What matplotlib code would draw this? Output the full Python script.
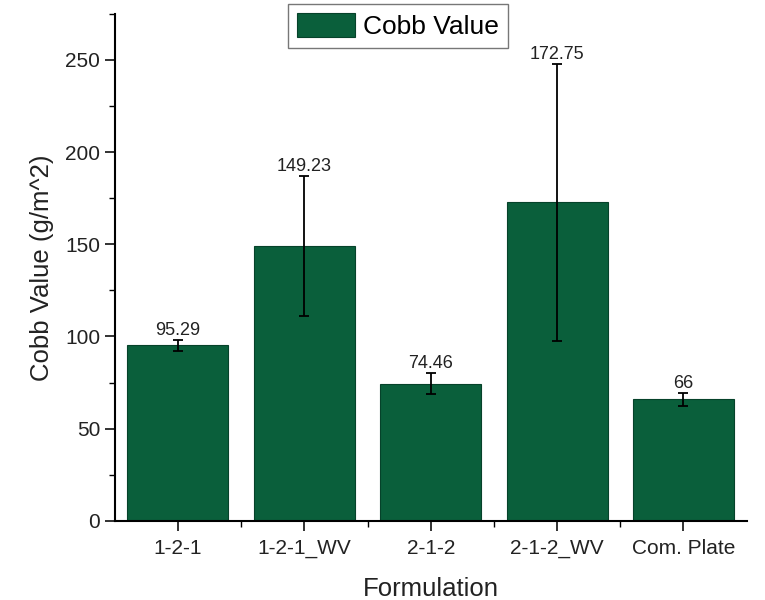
import matplotlib.pyplot as plt
from matplotlib.ticker import MultipleLocator, FixedLocator
import numpy as np

plt.rcParams.update({
    'font.family': 'Liberation Sans',
    'font.size': 12,
})

formulations = ['1-2-1', '1-2-1_WV', '2-1-2', '2-1-2_WV', 'Com. Plate']
cobb_values = [95.29, 149.23, 74.46, 172.75, 66]
cobb_err = [3.0, 38.0, 5.8, 75.0, 3.5]

bar_color = '#0a5f3b'

fig = plt.figure(figsize=(7.65, 6), dpi=100)
ax = fig.add_axes([0.150, 0.132, 0.826, 0.845])

x = np.arange(1, len(formulations) + 1)
ax.bar(x, cobb_values, width=0.8, color=bar_color, edgecolor='#06422a',
       linewidth=0.8, label='Cobb Value', zorder=2)
ax.errorbar(x, cobb_values, yerr=cobb_err, fmt='none', ecolor='black',
            elinewidth=1.3, capsize=3.5, capthick=1.3, zorder=3)

# value labels sit just above the error bar caps
for xi, v, e in zip(x, cobb_values, cobb_err):
    ax.text(xi, v + e + 0.5, f'{v:g}', ha='center', va='bottom', fontsize=13,
            color='#222222')

ax.set_xlim(0.5, 5.5)
ax.set_ylim(0, 275)
ax.set_xticks(x)
ax.set_xticklabels(formulations)
ax.xaxis.set_minor_locator(FixedLocator(x[:-1] + 0.5))
ax.yaxis.set_major_locator(MultipleLocator(50))
ax.yaxis.set_minor_locator(MultipleLocator(25))
ax.tick_params(axis='both', which='major', direction='out', length=7, width=1.3,
               labelsize=15, colors='#222222')
ax.tick_params(axis='x', which='major', pad=6)
ax.tick_params(axis='both', which='minor', direction='out', length=4, width=1.0)

ax.spines['top'].set_visible(False)
ax.spines['right'].set_visible(False)
ax.spines['left'].set_linewidth(1.5)
ax.spines['bottom'].set_linewidth(1.5)

ax.set_xlabel('Formulation', fontsize=18.5, labelpad=14, color='#222222')
ax.set_ylabel('Cobb Value (g/m^2)', fontsize=18.5, labelpad=8, color='#222222')

ax.legend(loc='upper center', bbox_to_anchor=(0.448, 1.02), fontsize=19,
          frameon=True, fancybox=False, edgecolor='#555555',
          handlelength=2.2, handleheight=1.05, borderpad=0.35,
          handletextpad=0.3, borderaxespad=0)

fig.savefig('out.png', facecolor='white')
